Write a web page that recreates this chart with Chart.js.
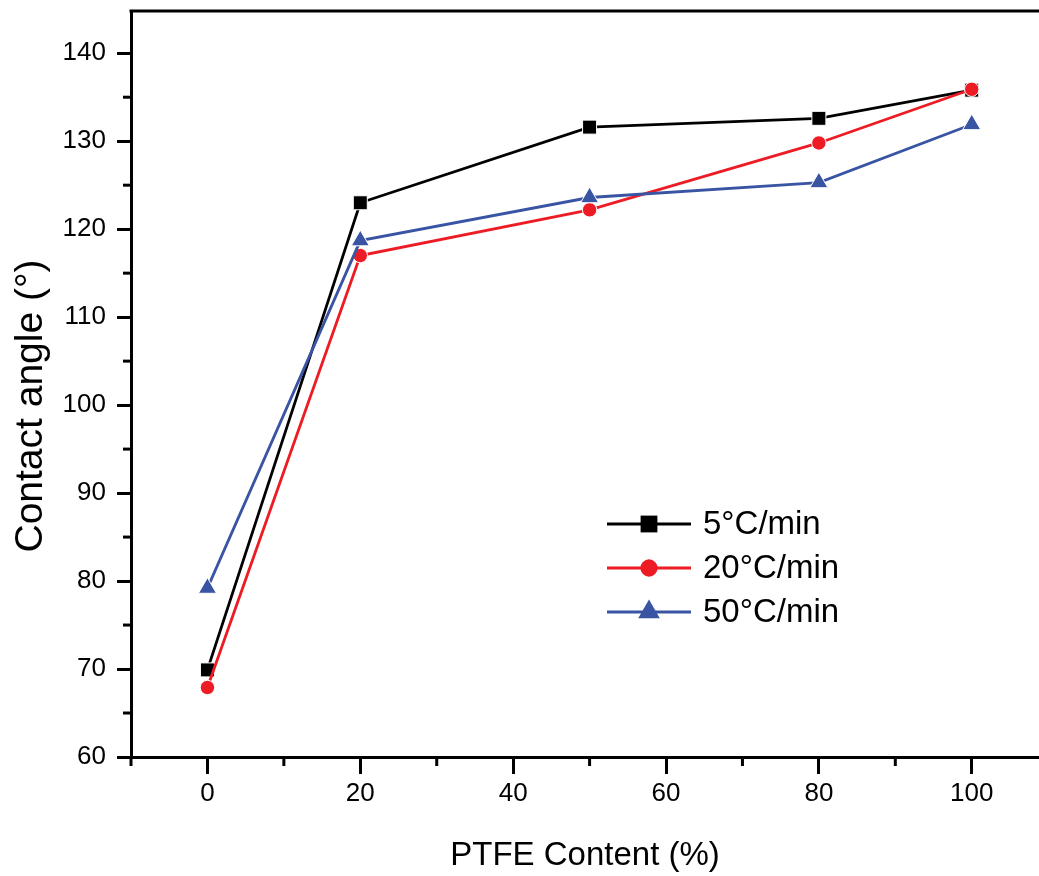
<!DOCTYPE html>
<html>
<head>
<meta charset="utf-8">
<script src="https://cdn.jsdelivr.net/npm/chart.js@4.4.1/dist/chart.umd.min.js"></script>
<style>
  html, body { margin: 0; padding: 0; background: #fff; overflow: hidden; }
  #wrap { width: 1039px; height: 876px; position: relative; }
  #c { display: block; }
</style>
</head>
<body>
<div id="wrap"><canvas id="c" width="1039" height="876"></canvas></div>
<script>
// ---- data ----
const ptfeContent = [0, 20, 50, 80, 100];
const rate5 = [69.9, 123.0, 131.6, 132.6, 135.8];
const rate20 = [67.9, 117.0, 122.2, 129.8, 135.9];
const rate50 = [79.2, 118.7, 123.6, 125.3, 131.9];
const seriesNames = ['5°C/min', '20°C/min', '50°C/min'];
const xTickValues = [0, 20, 40, 60, 80, 100];
const xMinorValues = [-10, 10, 30, 50, 70, 90];
const yTickValues = [60, 70, 80, 90, 100, 110, 120, 130, 140];
const yMinorValues = [65, 75, 85, 95, 105, 115, 125, 135];
const xTitle = 'PTFE Content (%)';
const yTitle = 'Contact angle (°)';

const FONT = '"Liberation Sans", Arial, sans-serif';
const colors = ['#000000', '#ed1c24', '#3a54a4'];
const styles = ['rect', 'circle', 'triangle'];
const radii = [9.9, 7.2, 10.4];

function mk(vals) { return ptfeContent.map((x, i) => ({ x: x, y: vals[i] })); }
const allSeries = [rate5, rate20, rate50];

const datasets = allSeries.map((vals, i) => ({
  label: seriesNames[i],
  data: mk(vals),
  order: allSeries.length - i,
  borderColor: colors[i],
  backgroundColor: colors[i],
  borderWidth: 2.8,
  pointStyle: styles[i],
  pointRadius: radii[i],
  pointHoverRadius: radii[i],
  pointBackgroundColor: colors[i],
  pointBorderColor: '#ffffff',
  pointBorderWidth: 1,
  tension: 0,
  fill: false,
  clip: false
}));

function noPad(s) { s.paddingTop = 0; s.paddingBottom = 0; s.paddingLeft = 0; s.paddingRight = 0; }

const framePlugin = {
  id: 'frame',
  afterDraw(chart) {
    const ctx = chart.ctx;
    const a = chart.chartArea;
    const xs = chart.scales.x, ys = chart.scales.y;
    ctx.save();
    ctx.strokeStyle = '#000';
    ctx.lineWidth = 3;
    // top border
    ctx.beginPath();
    ctx.moveTo(a.left - 1.5, a.top);
    ctx.lineTo(a.right, a.top);
    ctx.stroke();
    // minor ticks
    xMinorValues.forEach(v => {
      const px = xs.getPixelForValue(v);
      ctx.beginPath();
      ctx.moveTo(px, a.bottom);
      ctx.lineTo(px, a.bottom + 9);
      ctx.stroke();
    });
    yMinorValues.forEach(v => {
      const py = ys.getPixelForValue(v);
      ctx.beginPath();
      ctx.moveTo(a.left, py);
      ctx.lineTo(a.left - 8, py);
      ctx.stroke();
    });
    // y title
    ctx.fillStyle = '#000';
    ctx.font = '39px ' + FONT;
    ctx.textAlign = 'center';
    ctx.textBaseline = 'alphabetic';
    ctx.translate(42, 406);
    ctx.rotate(-Math.PI / 2);
    ctx.fillText(ys.options.title.text, 0, 0);
    ctx.restore();

    // legend
    ctx.save();
    const rowsY = [524, 568, 612];
    chart.data.datasets.forEach((ds, i) => {
      const y = rowsY[i];
      ctx.strokeStyle = ds.borderColor;
      ctx.lineWidth = 2.8;
      ctx.beginPath();
      ctx.moveTo(607, y);
      ctx.lineTo(691, y);
      ctx.stroke();
      ctx.fillStyle = ds.borderColor;
      ctx.strokeStyle = ds.borderColor;
      Chart.helpers.drawPoint(ctx, {
        pointStyle: ds.pointStyle,
        radius: ds.pointRadius * 1.2,
        rotation: 0,
        borderWidth: 0
      }, 649, y);
      ctx.fillStyle = '#000';
      ctx.font = '33px ' + FONT;
      ctx.textAlign = 'left';
      ctx.textBaseline = 'middle';
      ctx.fillText(ds.label, 703, y + 1);
    });
    ctx.restore();
  }
};

new Chart(document.getElementById('c'), {
  type: 'line',
  data: { datasets: datasets },
  plugins: [framePlugin],
  options: {
    responsive: false,
    animation: false,
    devicePixelRatio: 1,
    layout: { autoPadding: false, padding: { top: 11, right: 0, left: 0, bottom: 0 } },
    plugins: {
      legend: { display: false },
      tooltip: { enabled: false }
    },
    scales: {
      x: {
        type: 'linear',
        min: -10,
        max: 108.8,
        afterFit(s) { s.height = 119; noPad(s); },
        afterBuildTicks(s) { s.ticks = xTickValues.map(v => ({ value: v })); },
        grid: {
          drawOnChartArea: false,
          drawTicks: true,
          tickLength: 17,
          tickWidth: 3,
          tickColor: '#000'
        },
        border: { display: true, color: '#000', width: 3 },
        ticks: {
          color: '#000',
          font: { family: FONT, size: 26 },
          padding: 4,
          maxRotation: 0,
          autoSkip: false
        },
        title: {
          display: true,
          text: xTitle,
          color: '#000',
          font: { family: FONT, size: 33 },
          padding: { top: 0, bottom: 0 }
        }
      },
      y: {
        type: 'linear',
        min: 60,
        max: 144.8,
        afterFit(s) { s.width = 131; noPad(s); },
        afterBuildTicks(s) { s.ticks = yTickValues.map(v => ({ value: v })); },
        grid: {
          drawOnChartArea: false,
          drawTicks: true,
          tickLength: 14,
          tickWidth: 3,
          tickColor: '#000'
        },
        border: { display: true, color: '#000', width: 3 },
        ticks: {
          color: '#000',
          font: { family: FONT, size: 26 },
          padding: 11,
          autoSkip: false
        },
        title: {
          display: false,
          text: yTitle,
          color: '#000',
          font: { family: FONT, size: 39 }
        }
      }
    }
  }
});
</script>
</body>
</html>
